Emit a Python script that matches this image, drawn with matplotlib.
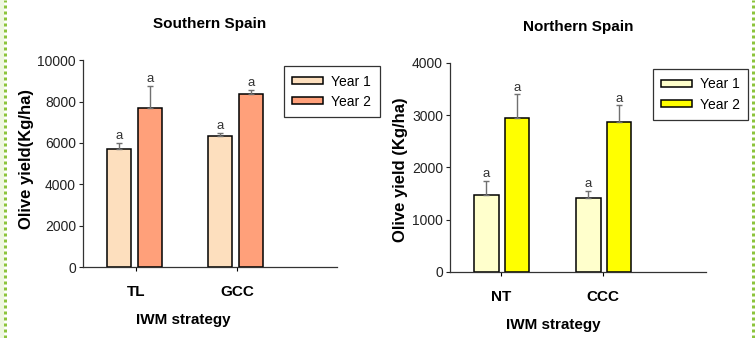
import matplotlib
matplotlib.use("Agg")
import matplotlib.pyplot as plt
from matplotlib.lines import Line2D
from matplotlib.patches import Rectangle

plt.rcParams['font.family'] = ['Liberation Sans', 'DejaVu Sans']

# ---- data ----
south_cats = ["TL", "GCC"]
south_y1 = [5700, 6310]
south_y1_err = [290, 180]
south_y2 = [7670, 8370]
south_y2_err = [1090, 190]

north_cats = ["NT", "CCC"]
north_y1 = [1475, 1405]
north_y1_err = [260, 150]
north_y2 = [2935, 2865]
north_y2_err = [460, 320]

series_names = ["Year 1", "Year 2"]
south_yticks = [0, 2000, 4000, 6000, 8000, 10000]
north_yticks = [0, 1000, 2000, 3000, 4000]


def draw_panel(ax, title, cats, v1, e1, v2, e2, colors, yticks, ylabel, xlim, offs):
    x = list(range(len(cats)))
    w = 0.24
    x1 = [i + offs[0] for i in x]
    x2 = [i + offs[1] for i in x]
    ekw = dict(ecolor="#707070", elinewidth=1.0, capsize=2.2, capthick=1.0)
    ax.bar(x1, v1, w, color=colors[0], edgecolor="black", linewidth=1.1,
           yerr=[[0] * len(v1), e1], error_kw=ekw, label=series_names[0], zorder=2)
    ax.bar(x2, v2, w, color=colors[1], edgecolor="black", linewidth=1.1,
           yerr=[[0] * len(v2), e2], error_kw=ekw, label=series_names[1], zorder=2)
    # significance letters above the error bars
    for xs, vs, es in ((x1, v1, e1), (x2, v2, e2)):
        for xi, vi, ei in zip(xs, vs, es):
            ax.annotate("a", (xi, vi + ei), xytext=(0, 0.5), textcoords="offset points",
                        ha="center", va="bottom", fontsize=9.5, color="#333333")

    ax.set_xlim(*xlim)
    ax.set_ylim(yticks[0], yticks[-1])
    ax.set_yticks(yticks)
    ax.set_xticks(x)
    ax.set_xticklabels(cats, fontsize=11, fontweight="bold")
    ax.tick_params(axis="y", labelsize=10, length=3, width=0.8, pad=2, colors="#222222")
    ax.tick_params(axis="x", length=3, width=0.8, pad=10)
    for s in ("top", "right"):
        ax.spines[s].set_visible(False)
    for s in ("left", "bottom"):
        ax.spines[s].set_linewidth(0.9)
        ax.spines[s].set_color("#333333")

    ax.set_title(title, fontsize=11, fontweight="bold", pad=23)
    ax.set_ylabel(ylabel, fontsize=12, fontweight="bold")
    ax.set_xlabel("IWM strategy", fontsize=11, fontweight="bold")

    leg = ax.legend(loc="upper left", bbox_to_anchor=(0.792, 0.97), borderaxespad=0,
                    fontsize=10, fancybox=False, framealpha=1, edgecolor="#333333",
                    handlelength=2.2, handleheight=0.4, labelspacing=0.45,
                    handletextpad=0.6, borderpad=0.6)
    leg.get_frame().set_linewidth(0.9)
    return ax


fig = plt.figure(figsize=(7.55, 3.38), dpi=100)

ax1 = fig.add_axes([0.110, 0.210, 0.336, 0.612])
draw_panel(ax1, "Southern Spain", south_cats, south_y1, south_y1_err, south_y2, south_y2_err,
           ("#FDDFBE", "#FFA07A"), south_yticks, "Olive yield(Kg/ha)",
           (-0.525, 1.99), (-0.165, 0.14))
ax1.yaxis.set_label_coords(-0.195, 0.52)
ax1.xaxis.set_label_coords(0.394, -0.22)

ax2 = fig.add_axes([0.596, 0.196, 0.339, 0.618])
draw_panel(ax2, "Northern Spain", north_cats, north_y1, north_y1_err, north_y2, north_y2_err,
           ("#FFFFCC", "#FFFF00"), north_yticks, "Olive yield (Kg/ha)",
           (-0.497, 2.013), (-0.14, 0.16))
ax2.yaxis.set_label_coords(-0.165, 0.49)
ax2.xaxis.set_label_coords(0.402, -0.22)

# green dotted page border
fig.add_artist(Rectangle((0, 0), 3 / 755, 1, transform=fig.transFigure,
                         color="#EEF7E0", zorder=0))
for xpx in (5, 752.5):
    fig.add_artist(Line2D([xpx / 755, xpx / 755], [0, 1], transform=fig.transFigure,
                          color="#8CC43C", linewidth=2.16, linestyle=(0, (1, 1)),
                          dash_capstyle="butt"))

fig.savefig("out.png", dpi=100)
